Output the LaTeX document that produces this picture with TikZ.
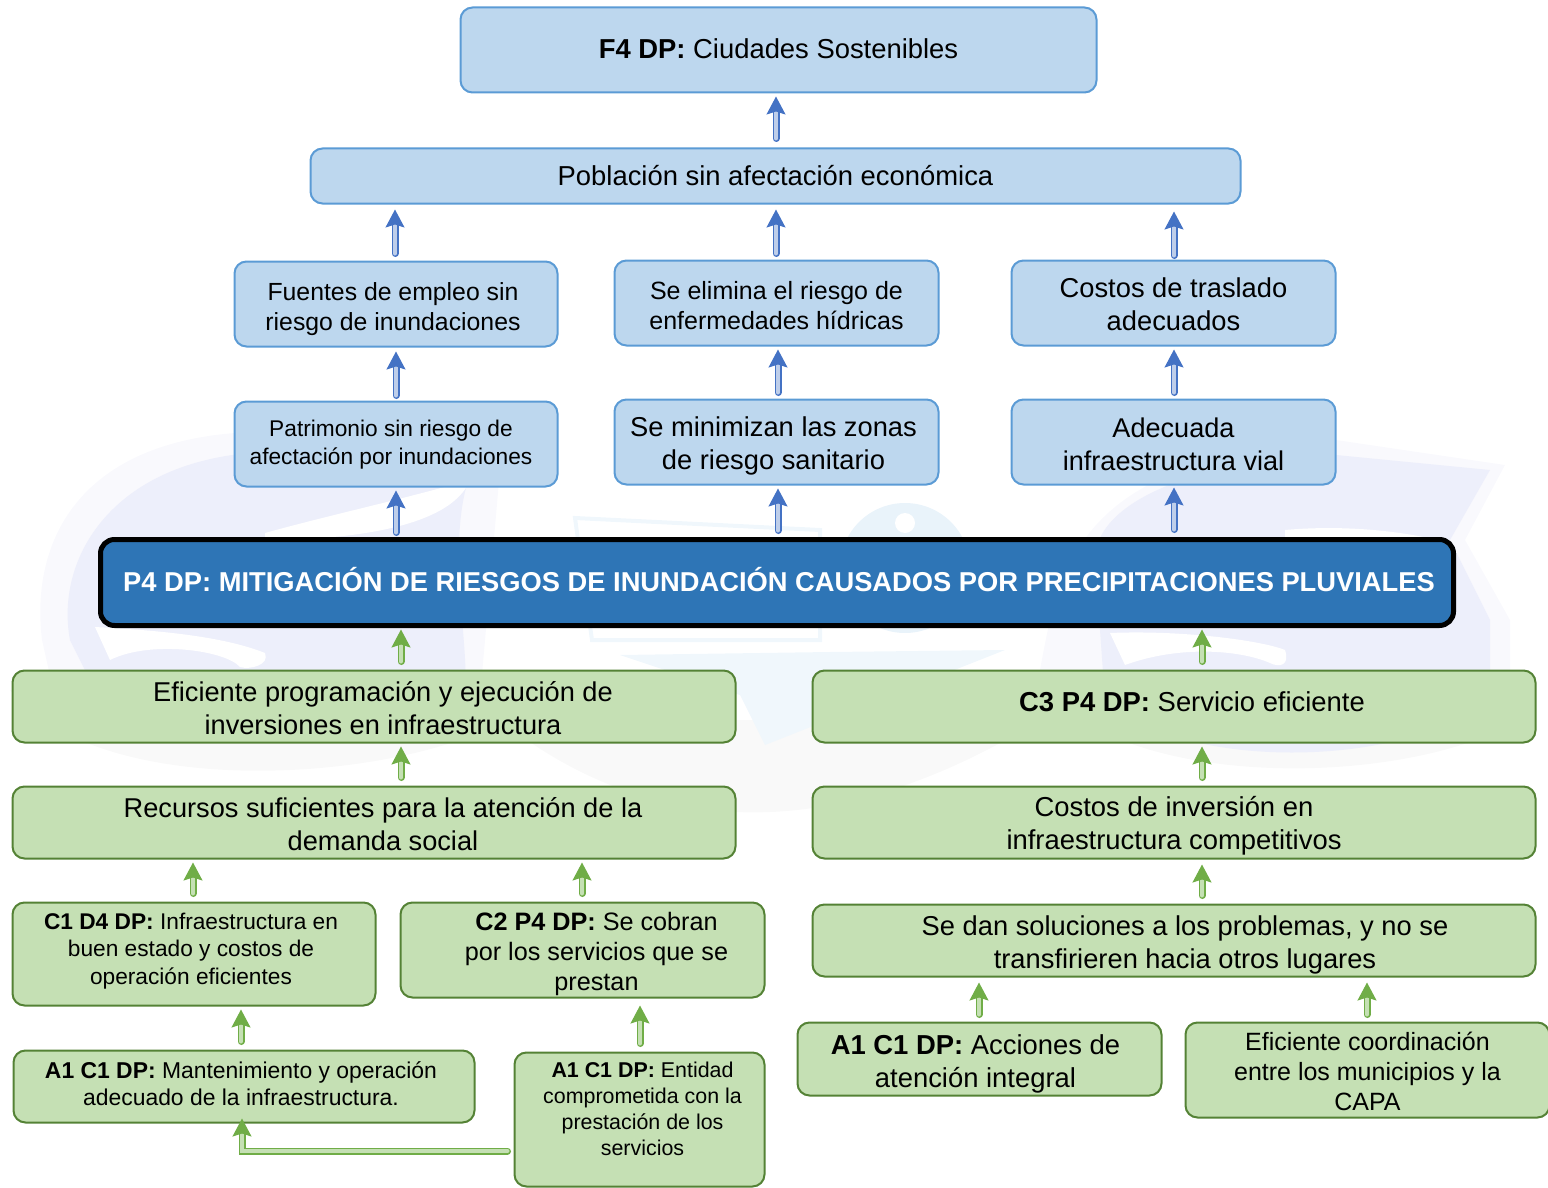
\documentclass[tikz,border=0pt]{standalone}
\usepackage{fontspec}
\setmainfont{Liberation Sans}
\usetikzlibrary{arrows.meta}
\definecolor{bluefill}{HTML}{BDD7EE}
\definecolor{blueline}{HTML}{5B9BD5}
\definecolor{greenfill}{HTML}{C5E0B4}
\definecolor{greenline}{HTML}{548235}
\definecolor{mainblue}{HTML}{2E75B6}
\definecolor{arrblue}{HTML}{4472C4}
\definecolor{arrgreen}{HTML}{70AD47}
\definecolor{wmark}{HTML}{EDEFFB}
\definecolor{wmarkout}{HTML}{F9F9FD}
\definecolor{wmarkb}{HTML}{F0F7FC}
\definecolor{wcircle}{HTML}{E9F3FA}
\definecolor{wshadow}{HTML}{F9F9F9}
\tikzset{
  basebox/.style={rounded corners=12pt,inner sep=0pt,outer sep=0pt,line width=2pt,anchor=center},
  bluebox/.style={basebox,draw=blueline,fill=bluefill},
  greenbox/.style={basebox,draw=greenline,fill=greenfill},
  mainbox/.style={basebox,draw=black,fill=mainblue,line width=5pt,text=white,rounded corners=14pt},
  conn/.style={line cap=round,line width=1.5pt,double distance=4pt},
  bluearrow/.style={conn,draw=arrblue,double=arrblue!35!white,-{Stealth[length=18pt,width=19pt,inset=3pt,color=arrblue]}},
  greenarrow/.style={conn,draw=arrgreen,double=greenfill,-{Stealth[length=18pt,width=19pt,inset=3pt,color=arrgreen]}},
}
% size, leading, dx, dy, text
\newcommand\tb[5]{\hspace*{\dimexpr 2pt*\numexpr#3\relax\relax}\raisebox{#4pt}[\height][\depth]{\fontsize{#1pt}{#2pt}\selectfont\begin{tabular}{@{}c@{}}#5\end{tabular}}}
% style, name, x0, y0, x1, y1, text
\newcommand\bx[7]{\pgfmathsetmacro\bxw{#5-#3-1}\pgfmathsetmacro\bxh{#6-#4-1}%
  \node[#1,minimum width=\bxw pt,minimum height=\bxh pt] (#2) at ({(#3+#5)/2},{(#4+#6)/2}) {#7};}
% style, src, dst, dx src, dx dst, start gap, end gap
\newcommand\ar[7]{\draw[#1,shorten <=#6pt+3pt,shorten >=#7pt] ([xshift=#4pt]#2.north) -- ([xshift=#5pt]#3.south);}
\begin{document}
\begin{tikzpicture}[x=1pt,y=-1pt]
\useasboundingbox (0,0) rectangle (1548,1188);
\clip (0,0) rectangle (1548,1188);
% faint watermark: shadows
\fill[wshadow] (10,690) .. controls (90,790) and (330,785) .. (460,740) -- (460,690) -- cycle;
\fill[wshadow] (1040,680) .. controls (1110,790) and (1400,790) .. (1520,720) -- (1520,680) -- cycle;
\fill[wshadow] (500,720) .. controls (600,800) and (780,880) .. (1040,720) -- cycle;
% left emblem
\fill[wmarkout] (42,640) .. controls (30,540) and (80,445) .. (235,433) -- (470,433) -- (500,470) -- (478,720) -- (60,720) -- cycle;
\fill[wmark] (70,640) .. controls (55,560) and (110,465) .. (250,453) -- (480,453) .. controls (440,520) and (470,640) .. (465,690)
   .. controls (430,745) and (150,770) .. (95,690) -- cycle;
\fill[white] (95,627) .. controls (150,630) and (220,635) .. (265,653) .. controls (270,665) and (250,670) .. (240,667)
   .. controls (225,650) and (150,640) .. (110,660) -- cycle;
\fill[white] (265,533) .. controls (330,515) and (400,500) .. (470,480) .. controls (450,530) and (340,540) .. (265,540) -- cycle;
% right emblem
\fill[wmarkout] (1040,670) .. controls (1060,560) and (1080,460) .. (1336,440) -- (1505,465) -- (1465,540) -- (1510,620) -- (1510,700) -- (1100,700) -- cycle;
\fill[wmark] (1095,560) .. controls (1095,500) and (1200,460) .. (1336,455) -- (1490,470) -- (1450,540) -- (1490,620) -- (1490,700)
   .. controls (1400,770) and (1180,770) .. (1105,700) -- cycle;
\fill[white] (1285,530) .. controls (1340,525) and (1400,530) .. (1445,542) -- (1285,542) -- cycle;
\fill[white] (1110,633) .. controls (1180,630) and (1260,640) .. (1285,650) .. controls (1290,665) and (1280,668) .. (1270,663)
   .. controls (1240,650) and (1180,645) .. (1125,665) -- cycle;
% centre emblem
\fill[wcircle] (905,568) circle (65);
\fill[white] (905,523) circle (10);
\draw[wmarkb,line width=4pt] (575,518) -- (820,530) -- (820,640) -- (592,640) -- cycle;
\fill[wmarkb] (620,655) -- (830,652) -- (1005,650) -- (765,745) -- (740,695) -- cycle;
% boxes
\bx{bluebox}{f4}{460}{7}{1097}{93}{\tb{27.4}{30}{0}{-3}{\textbf{F4 DP:} Ciudades Sostenibles}}
\bx{bluebox}{pob}{310}{148}{1241}{204}{\tb{27.4}{30}{0}{-3}{Población sin afectación económica}}
\bx{bluebox}{fuentes}{234}{261}{558}{347}{\tb{24.8}{30}{-3}{-5}{Fuentes de empleo sin\\riesgo de inundaciones}}
\bx{bluebox}{elimina}{614}{260}{939}{346}{\tb{25}{30}{0}{-5}{Se elimina el riesgo de\\enfermedades hídricas}}
\bx{bluebox}{traslado}{1011}{260}{1336}{346}{\tb{27.3}{33}{0}{-4}{Costos de traslado\\adecuados}}
\bx{bluebox}{patrimonio}{234}{401}{558}{487}{\tb{22.7}{28}{-5}{-1}{Patrimonio sin riesgo de\\afectación por inundaciones}}
\bx{bluebox}{minimizan}{614}{399}{939}{485}{\tb{27.3}{33}{-3}{-4}{Se minimizan las zonas\\de riesgo sanitario}}
\bx{bluebox}{vial}{1011}{399}{1336}{485}{\tb{27.1}{33}{0}{-5}{Adecuada\\infraestructura vial}}
\bx{mainbox}{p4}{100}{539}{1454}{626}{\tb{27.3}{30}{2}{-1}{\textbf{P4 DP: MITIGACIÓN DE RIESGOS DE INUNDACIÓN CAUSADOS POR PRECIPITACIONES PLUVIALES}}}
\bx{greenbox}{progr}{12}{670}{736}{743}{\tb{27.2}{33}{9}{-5}{Eficiente programación y ejecución de\\inversiones en infraestructura}}
\bx{greenbox}{c3}{812}{670}{1536}{743}{\tb{27.4}{30}{18}{1}{\textbf{C3 P4 DP:} Servicio eficiente}}
\bx{greenbox}{recursos}{12}{786}{736}{859}{\tb{27.2}{33}{9}{-5}{Recursos suficientes para la atención de la\\demanda social}}
\bx{greenbox}{inversion}{812}{786}{1536}{859}{\tb{27.4}{33}{0}{-4}{Costos de inversión en\\infraestructura competitivos}}
\bx{greenbox}{c1}{12}{902}{376}{1006}{\tb{22.7}{27.5}{-3}{3}{\textbf{C1 D4 DP:} Infraestructura en\\buen estado y costos de\\operación eficientes}}
\bx{greenbox}{c2}{400}{902}{765}{998}{\tb{25.2}{30}{14}{-4}{\textbf{C2 P4 DP:} Se cobran\\por los servicios que se\\prestan}}
\bx{greenbox}{sedan}{812}{904}{1536}{977}{\tb{27.3}{33}{11}{-5}{Se dan soluciones a los problemas, y no se\\transfirieren hacia otros lugares}}
\bx{greenbox}{aleft}{13}{1050}{475}{1123}{\tb{22.9}{27}{-3}{0}{\textbf{A1 C1 DP:} Mantenimiento y operación\\adecuado de la infraestructura.}}
\bx{greenbox}{aent}{514}{1052}{765}{1187}{\tb{21.4}{26}{3}{8}{\textbf{A1 C1 DP:} Entidad\\comprometida con la\\prestación de los\\servicios}}
\bx{greenbox}{acc}{797}{1022}{1162}{1096}{\tb{27.4}{33}{-4}{-5}{\textbf{A1 C1 DP:} Acciones de\\atención integral}}
\bx{greenbox}{coord}{1185}{1022}{1550}{1118}{\tb{25}{30}{0}{-4}{Eficiente coordinación\\entre los municipios y la\\CAPA}}
% blue connectors
\ar{bluearrow}{pob}{f4}{0.5}{-2.5}{7}{4}
\ar{bluearrow}{fuentes}{pob}{-1}{-380.5}{5}{6}
\ar{bluearrow}{elimina}{pob}{-0.5}{0.5}{4}{6}
\ar{bluearrow}{traslado}{pob}{0.5}{398.5}{2}{8}
\ar{bluearrow}{patrimonio}{fuentes}{0}{0}{3}{5}
\ar{bluearrow}{minimizan}{elimina}{1.5}{1.5}{4}{4}
\ar{bluearrow}{vial}{traslado}{0.5}{0.5}{4}{4}
\ar{bluearrow}{p4}{patrimonio}{-381}{0}{4}{4}
\ar{bluearrow}{p4}{minimizan}{1}{1.5}{6}{4}
\ar{bluearrow}{p4}{vial}{397}{0.5}{7}{3}
% green connectors
\ar{greenarrow}{progr}{p4}{27}{-376}{6}{4}
\ar{greenarrow}{c3}{p4}{28}{425}{6}{4}
\ar{greenarrow}{recursos}{progr}{27}{27}{6}{4}
\ar{greenarrow}{inversion}{c3}{28}{28}{6}{4}
\ar{greenarrow}{c1}{recursos}{-1}{-181}{6}{4}
\ar{greenarrow}{c2}{recursos}{-0.5}{208}{6}{4}
\ar{greenarrow}{sedan}{inversion}{28}{28}{6}{6}
\ar{greenarrow}{acc}{sedan}{-0.5}{-195}{5}{6}
\ar{greenarrow}{coord}{sedan}{-0.5}{193}{5}{6}
\ar{greenarrow}{aleft}{c1}{-3}{47}{6}{4}
\ar{greenarrow}{aent}{c2}{0.5}{57.5}{6}{8}
\draw[greenarrow,shorten <=7pt,shorten >=-4pt] ([yshift=-31.5pt]aent.west) -| ([xshift=-2pt]aleft.south);
\end{tikzpicture}
\end{document}
